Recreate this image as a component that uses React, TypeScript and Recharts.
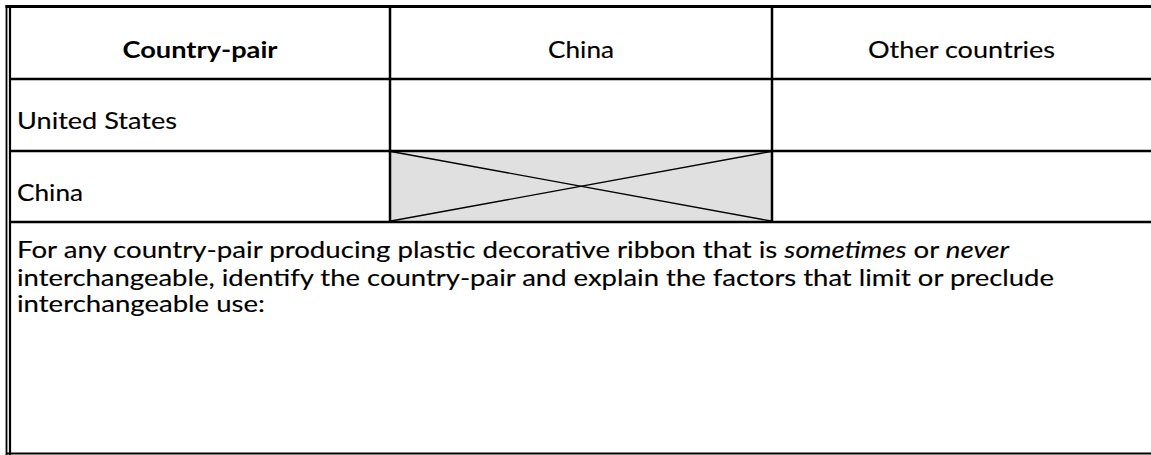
import React from "react";
import { ScatterChart, Scatter, XAxis, YAxis, ReferenceLine, ReferenceArea } from "recharts";

// ---- content ----
const columnHeaders = ["Country-pair", "China", "Other countries"];
const rowLabels = ["United States", "China"];
const crossedCells = [{ row: "China", column: "China" }];
const noteLines = [
  [
    { text: "For any country-pair producing plastic decorative ribbon that is ", italic: false },
    { text: "sometimes", italic: true },
    { text: " or ", italic: false },
    { text: "never", italic: true },
  ],
  [{ text: "interchangeable, identify the country-pair and explain the factors that limit or preclude", italic: false }],
  [{ text: "interchangeable use:", italic: false }],
];

// ---- layout ----
const W = 1151;
const H = 455;
const colEdges = [10, 390, 772, 1151];
const rowEdges = [6, 79, 151, 222, 454];
const headerWidths = [155, 66, 187];
const rowLabelWidths = [160, 66];
const noteWidths = [992, 1037, 248];
const noteBaselines = [258, 285.5, 312];
const textLeft = 17;
const headerBaselineOffset = 15;
const rowBaselineOffset = 14;
const FONT = "Lato, 'Open Sans', sans-serif";
const FONT_SIZE = 23.5;

type Item = {
  x: number;
  y: number;
  anchor: "start" | "middle";
  width: number;
  bold?: boolean;
  segments: { text: string; italic: boolean }[];
};

const items: Item[] = [];
columnHeaders.forEach((h, i) => {
  items.push({
    x: (colEdges[i] + colEdges[i + 1]) / 2,
    y: (rowEdges[0] + rowEdges[1]) / 2 + headerBaselineOffset,
    anchor: "middle",
    width: headerWidths[i],
    bold: i === 0,
    segments: [{ text: h, italic: false }],
  });
});
rowLabels.forEach((r, i) => {
  items.push({
    x: textLeft,
    y: (rowEdges[i + 1] + rowEdges[i + 2]) / 2 + rowBaselineOffset,
    anchor: "start",
    width: rowLabelWidths[i],
    segments: [{ text: r, italic: false }],
  });
});
noteLines.forEach((segs, i) => {
  items.push({ x: textLeft, y: noteBaselines[i], anchor: "start", width: noteWidths[i], segments: segs });
});

const TextShape = (props: any) => {
  const { cx, cy, payload } = props;
  const p: Item = payload;
  return (
    <text
      x={cx}
      y={cy}
      textAnchor={p.anchor}
      fontFamily={FONT}
      fontSize={FONT_SIZE}
      fontWeight={p.bold ? 700 : 400}
      fill="#000"
      stroke="#000"
      strokeWidth={p.bold ? 0 : 0.15}
      textLength={p.width}
      lengthAdjust="spacingAndGlyphs"
      style={{ whiteSpace: "pre" }}
    >
      {p.segments.map((s, k) => (
        <tspan key={k} fontStyle={s.italic ? "italic" : "normal"}>
          {s.text}
        </tspan>
      ))}
    </text>
  );
};

const gridLines = [
  // top border
  { a: { x: 5.5, y: 6.5 }, b: { x: W, y: 6.5 }, w: 3 },
  // left double border
  { a: { x: 6.5, y: 5 }, b: { x: 6.5, y: H }, w: 1.8 },
  { a: { x: 10, y: 6 }, b: { x: 10, y: H }, w: 2.2 },
  // column dividers
  ...colEdges.slice(1, 3).map((x) => ({ a: { x, y: rowEdges[0] }, b: { x, y: rowEdges[3] }, w: 2.5 })),
  // row lines
  ...rowEdges.slice(1, 4).map((y) => ({ a: { x: colEdges[0], y }, b: { x: W, y }, w: 2.5 })),
  // bottom
  { a: { x: 6, y: 453.5 }, b: { x: W, y: 453.5 }, w: 1.8 },
];

const cellRect = (rowName: string, colName: string) => {
  const r = rowLabels.indexOf(rowName) + 1;
  const c = columnHeaders.indexOf(colName);
  return { x1: colEdges[c], x2: colEdges[c + 1], y1: rowEdges[r], y2: rowEdges[r + 1] };
};

export default function App() {
  return (
    <div style={{ position: "absolute", left: 0, top: 0, background: "#fff" }}>
      <ScatterChart width={W} height={H} margin={{ top: 0, right: 0, bottom: 0, left: 0 }}>
        <XAxis type="number" dataKey="x" domain={[0, W]} hide allowDataOverflow />
        <YAxis type="number" dataKey="y" domain={[0, H]} reversed hide allowDataOverflow />
        {crossedCells.map((c, i) => {
          const r = cellRect(c.row, c.column);
          return (
            <ReferenceArea
              key={"a" + i}
              x1={r.x1}
              x2={r.x2}
              y1={r.y1}
              y2={r.y2}
              fill="#e0e0e0"
              fillOpacity={1}
              stroke="none"
              ifOverflow="visible"
            />
          );
        })}
        {crossedCells.map((c, i) => {
          const r = cellRect(c.row, c.column);
          return (
            <ReferenceLine
              key={"d1" + i}
              segment={[{ x: r.x1 + 1, y: r.y1 + 0.5 }, { x: r.x2 - 1, y: r.y2 - 1 }]}
              stroke="#000"
              strokeWidth={1.4}
              ifOverflow="visible"
            />
          );
        })}
        {crossedCells.map((c, i) => {
          const r = cellRect(c.row, c.column);
          return (
            <ReferenceLine
              key={"d2" + i}
              segment={[{ x: r.x1 + 1, y: r.y2 - 1 }, { x: r.x2 - 1, y: r.y1 + 0.5 }]}
              stroke="#000"
              strokeWidth={1.4}
              ifOverflow="visible"
            />
          );
        })}
        {gridLines.map((l, i) => (
          <ReferenceLine key={"g" + i} segment={[l.a, l.b]} stroke="#000" strokeWidth={l.w} ifOverflow="visible" />
        ))}
        <Scatter data={items} shape={TextShape} isAnimationActive={false} />
      </ScatterChart>
    </div>
  );
}
